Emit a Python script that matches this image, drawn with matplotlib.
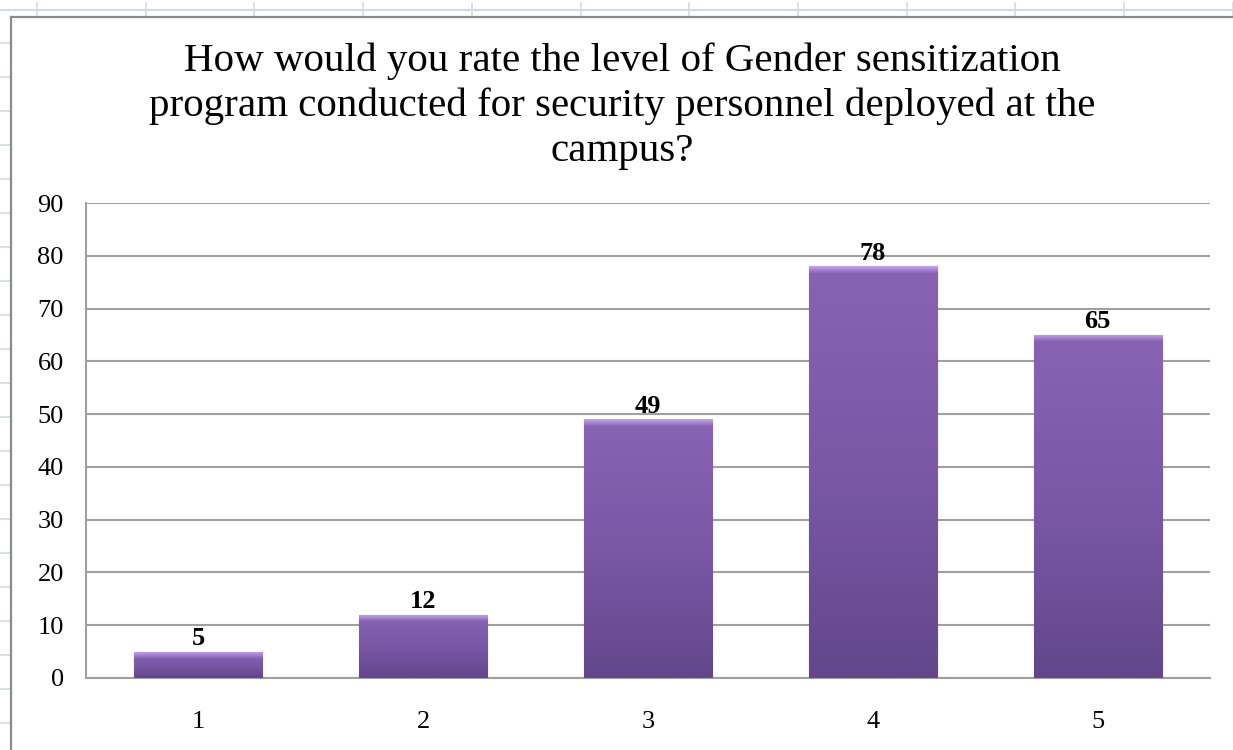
import numpy as np
import matplotlib
matplotlib.use("Agg")
import matplotlib.pyplot as plt
from matplotlib.colors import LinearSegmentedColormap, to_rgba
from matplotlib.lines import Line2D

# data
ratings = ["1", "2", "3", "4", "5"]
counts = [5, 12, 49, 78, 65]
yticks = [0, 10, 20, 30, 40, 50, 60, 70, 80, 90]

title = ("How would you rate the level of Gender sensitization\n"
         "program conducted for security personnel deployed at the\n"
         "campus?")

W, H = 1233, 750
fig = plt.figure(figsize=(W / 100, H / 100), dpi=100)
plt.rcParams['font.family'] = ['Liberation Serif', 'DejaVu Serif']

# spreadsheet cells behind the chart
grid_col = "#d3d9e6"
fig.add_artist(Line2D([0, 1], [1 - 10 / H, 1 - 10 / H], color=grid_col, lw=1.5))
for xp in np.arange(37, W, 108.7):
    fig.add_artist(Line2D([xp / W, xp / W], [1 - 3 / H, 1 - 17 / H], color=grid_col, lw=1.2))
for yp in np.arange(43, H, 34):
    fig.add_artist(Line2D([0, 11 / W], [1 - yp / H, 1 - yp / H], color=grid_col, lw=1.2))

# chart frame
frame_col = "#8c8c8c"
fig.add_artist(Line2D([11 / W, 11 / W], [0, 1 - 17 / H], color=frame_col, lw=1.6))
fig.add_artist(Line2D([11 / W, 1], [1 - 17 / H, 1 - 17 / H], color=frame_col, lw=1.6))

fig.text(622 / W, 1 - 106 / H, title, ha="center", va="center", fontsize=29.5,
         linespacing=1.27)

ax = fig.add_axes([86 / W, 72 / H, (1210 - 86) / W, (678 - 203) / H])
x = np.arange(len(ratings))
ax.set_xlim(-0.5, len(ratings) - 0.5)
ax.set_ylim(0, 90)
ax.set_yticks(yticks)
ax.set_xticks(x)
ax.set_xticklabels(ratings)
ax.tick_params(length=0, labelsize=19)
ax.tick_params(axis="x", pad=24)
ax.tick_params(axis="y", pad=16)
ax.grid(axis="y", color="#a0a0a0", lw=1.5)
ax.set_axisbelow(True)
for s in ["top", "right"]:
    ax.spines[s].set_visible(False)
for s in ["left", "bottom"]:
    ax.spines[s].set_color("#a0a0a0")
    ax.spines[s].set_linewidth(1.5)

bars = ax.bar(x, counts, width=0.57, color="#7a5aa6", edgecolor="#4f3a70", lw=0.8, zorder=2)

cmap = LinearSegmentedColormap.from_list("purp", ["#8863b3", "#7a58a6", "#62478c"])
px_per_unit = (678 - 203) / 90
for b, v in zip(bars, counts):
    n = max(int(v * px_per_unit), 12)
    grad = cmap(np.linspace(0, 1, n))[:, None, :]
    # lighter bevel along the top edge
    bevel = np.linspace(0, 1, 8)[:, None]
    grad[:8, 0, :] = (1 - bevel) * np.array(to_rgba("#c0a2ea")) + bevel * grad[:8, 0, :]
    im = ax.imshow(grad, extent=[b.get_x(), b.get_x() + b.get_width(), 0, v],
                   aspect="auto", zorder=3, interpolation="bilinear")
    im.set_clip_path(b)
    ax.text(b.get_x() + b.get_width() / 2, v + 0.3, str(v), ha="center", va="bottom",
            fontsize=19, fontweight="bold", zorder=4)

ax.set_xlim(-0.5, len(ratings) - 0.5)
ax.set_ylim(0, 90)

fig.savefig("out.png", dpi=100)
